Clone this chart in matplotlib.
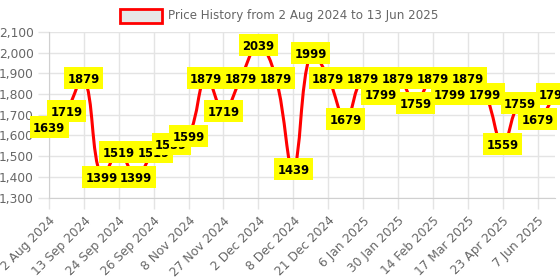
# price history line chart with yellow value labels
import matplotlib.pyplot as plt
from matplotlib.path import Path
from matplotlib.patches import PathPatch, Rectangle
from matplotlib.ticker import FuncFormatter, MultipleLocator
from matplotlib.transforms import ScaledTranslation
import numpy as np

# --- data ---
prices = [1639, 1719, 1879, 1399, 1519, 1399, 1519, 1559, 1599, 1879,
          1719, 1879, 2039, 1879, 1439, 1999, 1879, 1679, 1879, 1799,
          1879, 1759, 1879, 1799, 1879, 1799, 1559, 1759, 1679, 1799]
tick_labels = ["2 Aug 2024", "13 Sep 2024", "24 Sep 2024", "26 Sep 2024",
               "8 Nov 2024", "27 Nov 2024", "2 Dec 2024", "8 Dec 2024",
               "21 Dec 2024", "6 Jan 2025", "30 Jan 2025", "14 Feb 2025",
               "17 Mar 2025", "23 Apr 2025", "7 Jun 2025"]
legend_label = "Price History from 2 Aug 2024 to 13 Jun 2025"

GRID = '#e4e4e4'
TXT = '#666666'

fig = plt.figure(figsize=(5.6, 2.8), dpi=100)
ax = fig.add_axes([49/560, 1-197.5/280, 506/560, 165.5/280])
ax.set_xlim(0, len(prices) - 1)
ax.set_ylim(1300, 2100)

# axes styling
ax.yaxis.set_major_locator(MultipleLocator(100))
ax.yaxis.set_major_formatter(FuncFormatter(lambda v, p: f"{int(v):,}"))
ax.set_xticks(range(0, len(prices), 2))
ax.set_xticklabels(tick_labels, rotation=45, ha='right', rotation_mode='anchor')
ax.tick_params(axis='both', length=8, color=GRID, labelcolor=TXT, width=1)
ax.tick_params(axis='x', pad=4, labelsize=8.8)
ax.tick_params(axis='y', pad=3, labelsize=8.8)
ax.grid(True, color=GRID, lw=1)
ax.set_axisbelow(True)
for s in ['top', 'right']:
    ax.spines[s].set_visible(False)
for s in ['left', 'bottom']:
    ax.spines[s].set_color('#d0d0d0')

# smooth line (chart.js-style spline, tension 0.4, computed in pixel space)
x = np.arange(len(prices))
pts = ax.transData.transform(np.column_stack([x, prices]))
t = 0.4
n = len(pts)
cp_prev = np.zeros_like(pts)
cp_next = np.zeros_like(pts)
for i in range(n):
    prev = pts[i-1] if i > 0 else pts[i]
    nxt = pts[i+1] if i < n-1 else pts[i]
    d01 = np.hypot(*(pts[i] - prev))
    d12 = np.hypot(*(nxt - pts[i]))
    tot = d01 + d12
    s01 = d01 / tot if tot else 0
    s12 = d12 / tot if tot else 0
    cp_prev[i] = pts[i] - t * s01 * (nxt - prev)
    cp_next[i] = pts[i] + t * s12 * (nxt - prev)
verts = [pts[0]]
codes = [Path.MOVETO]
for i in range(1, n):
    verts += [cp_next[i-1], cp_prev[i], pts[i]]
    codes += [Path.CURVE4] * 3
verts = ax.transData.inverted().transform(np.array(verts))
ax.add_patch(PathPatch(Path(verts, codes), fc='none', ec='#ff0000', lw=2.2, zorder=2))

# value labels: fixed-size yellow boxes (pixel size) centred on each point
BW, BH = 0.39, 0.22  # inches
for i, v in enumerate(prices):
    z = 3 + i * 0.01
    tr = fig.dpi_scale_trans + ScaledTranslation(i, v, ax.transData)
    ax.add_patch(Rectangle((-BW/2, -BH/2), BW, BH, transform=tr, fc='#ffff00',
                           ec='none', clip_on=False, zorder=z))
    ax.text(i, v, str(v), ha='center', va='center_baseline', fontsize=8.4, fontweight='bold',
            color='black', clip_on=False, zorder=z + 0.001)

# legend
fig.patches.append(Rectangle((120/560, 1-23/280), 42/560, 14/280, transform=fig.transFigure,
                             fc='#e6e6e6', ec='#ff0000', lw=2))
fig.text(168/560, 1-16/280, legend_label, ha='left', va='center', fontsize=8.6, color=TXT)

fig.savefig('out.png', dpi=100)
